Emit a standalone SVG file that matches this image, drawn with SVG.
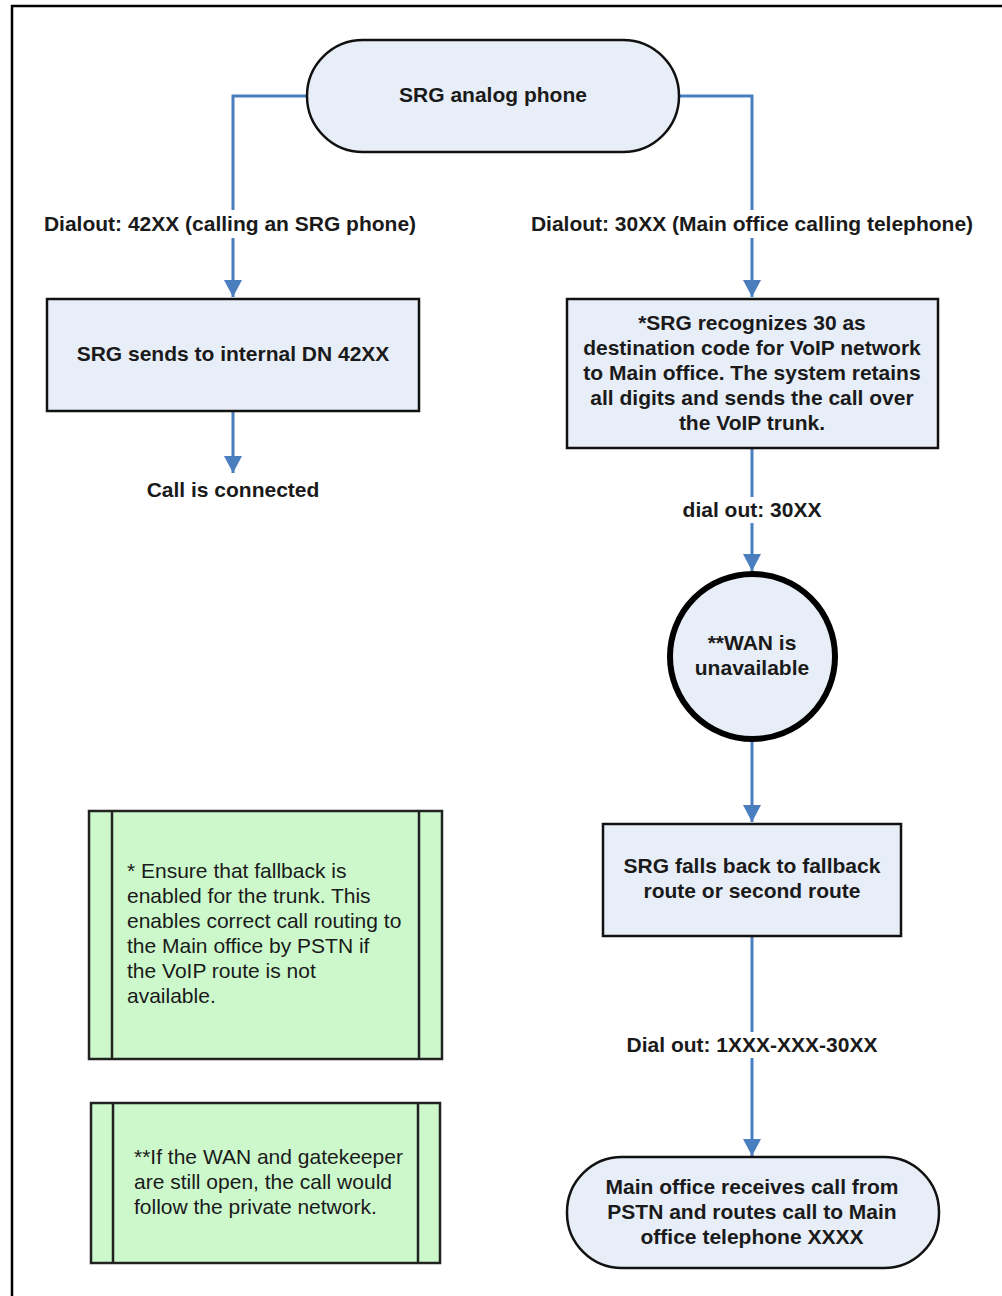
<svg xmlns="http://www.w3.org/2000/svg" width="1002" height="1296" viewBox="0 0 1002 1296">
<defs>
<marker id="ah" markerUnits="userSpaceOnUse" markerWidth="20" markerHeight="20" viewBox="0 0 20 20" refX="17" refY="10" orient="auto">
<path d="M0,1 L17,10 L0,19 Z" fill="#4a7ebf"/>
</marker>
<style>
.b{font-family:"Liberation Sans",Arial,sans-serif;font-weight:bold;font-size:21px;fill:#1a1a1a;text-anchor:middle}
.n{font-family:"Liberation Sans",Arial,sans-serif;font-size:21px;fill:#1a1a1a}
.node{fill:#e8eef8;stroke:#111;stroke-width:2.5}
.note{fill:#ccf8cc;stroke:#222;stroke-width:2.5}
.c{fill:none;stroke:#4a7ebf;stroke-width:3}
.lbg{fill:#fff}
</style>
</defs>
<rect width="1002" height="1296" fill="#fff"/>
<rect x="12" y="6" width="1000" height="1300" fill="none" stroke="#000" stroke-width="2.5"/>

<g id="connectors">
<path class="c" d="M307,96 H233 V297" marker-end="url(#ah)"/>
<path class="c" d="M679,96 H752 V297" marker-end="url(#ah)"/>
<path class="c" d="M233,411 V473" marker-end="url(#ah)"/>
<path class="c" d="M752,448 V571" marker-end="url(#ah)"/>
<path class="c" d="M752,742 V822" marker-end="url(#ah)"/>
<path class="c" d="M752,936 V1156" marker-end="url(#ah)"/>
<rect class="lbg" x="40" y="210" width="380" height="28"/>
<text class="b" x="230" y="231">Dialout: 42XX (calling an SRG phone)</text>
<rect class="lbg" x="527" y="210" width="450" height="28"/>
<text class="b" x="752" y="231">Dialout: 30XX (Main office calling telephone)</text>
<rect class="lbg" x="676" y="497" width="152" height="26"/>
<text class="b" x="752" y="517">dial out: 30XX</text>
<rect class="lbg" x="620" y="1032" width="264" height="26"/>
<text class="b" x="752" y="1052">Dial out: 1XXX-XXX-30XX</text>
</g>

<g id="start">
<rect class="node" x="307" y="40" width="372" height="112" rx="56" ry="56"/>
<text class="b" x="493" y="102">SRG analog phone</text>
</g>

<g id="internal">
<rect class="node" x="47" y="299" width="372" height="112"/>
<text class="b" x="233" y="361">SRG sends to internal DN 42XX</text>
</g>

<g id="connected">
<text class="b" x="233" y="497">Call is connected</text>
</g>

<g id="recognize">
<rect class="node" x="567" y="299" width="371" height="149"/>
<text class="b" x="752" y="330">*SRG recognizes 30 as</text>
<text class="b" x="752" y="355">destination code for VoIP network</text>
<text class="b" x="752" y="380">to Main office. The system retains</text>
<text class="b" x="752" y="405">all digits and sends the call over</text>
<text class="b" x="752" y="430">the VoIP trunk.</text>
</g>

<g id="wan">
<circle cx="752.5" cy="656.5" r="82.5" fill="#e8eef8" stroke="#000" stroke-width="6"/>
<text class="b" x="752" y="650">**WAN is</text>
<text class="b" x="752" y="675">unavailable</text>
</g>

<g id="fallback">
<rect class="node" x="603" y="824" width="298" height="112"/>
<text class="b" x="752" y="873">SRG falls back to fallback</text>
<text class="b" x="752" y="898">route or second route</text>
</g>

<g id="mainoffice">
<rect class="node" x="567" y="1157" width="372" height="111" rx="55" ry="55"/>
<text class="b" x="752" y="1194">Main office receives call from</text>
<text class="b" x="752" y="1219">PSTN and routes call to Main</text>
<text class="b" x="752" y="1244">office telephone XXXX</text>
</g>

<g id="note1">
<rect class="note" x="89" y="811" width="353" height="248"/>
<line x1="112" y1="811" x2="112" y2="1059" stroke="#222" stroke-width="2.5"/>
<line x1="419" y1="811" x2="419" y2="1059" stroke="#222" stroke-width="2.5"/>
<text class="n" x="127" y="878">* Ensure that fallback is</text>
<text class="n" x="127" y="903">enabled for the trunk. This</text>
<text class="n" x="127" y="928">enables correct call routing to</text>
<text class="n" x="127" y="953">the Main office by PSTN if</text>
<text class="n" x="127" y="978">the VoIP route is not</text>
<text class="n" x="127" y="1003">available.</text>
</g>

<g id="note2">
<rect class="note" x="91" y="1103" width="349" height="160"/>
<line x1="113" y1="1103" x2="113" y2="1263" stroke="#222" stroke-width="2.5"/>
<line x1="418" y1="1103" x2="418" y2="1263" stroke="#222" stroke-width="2.5"/>
<text class="n" x="134" y="1164">**If the WAN and gatekeeper</text>
<text class="n" x="134" y="1189">are still open, the call would</text>
<text class="n" x="134" y="1214">follow the private network.</text>
</g>
</svg>
